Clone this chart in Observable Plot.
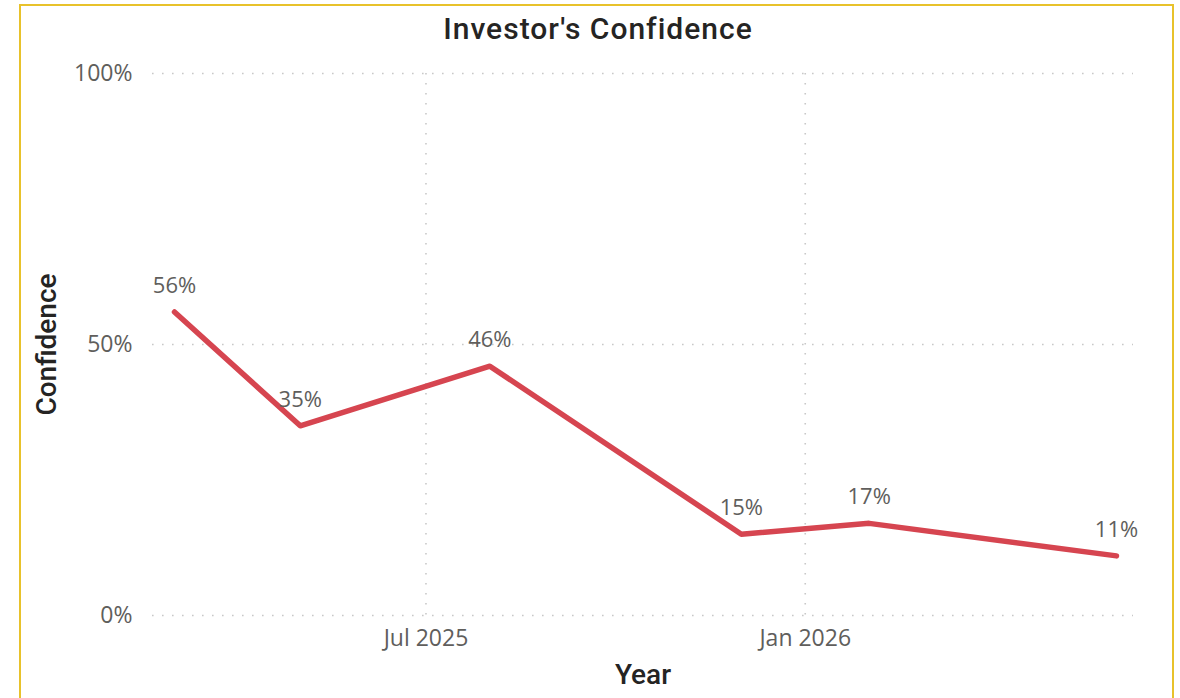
<!DOCTYPE html>
<html>
<head>
<meta charset="utf-8">
<script src="https://cdn.jsdelivr.net/npm/d3@7"></script>
<script src="https://cdn.jsdelivr.net/npm/@observablehq/plot@0.6"></script>
<style>
  html, body { margin: 0; padding: 0; background: #fff; }
  #wrap { position: relative; width: 1180px; height: 698px; overflow: hidden; }
  #frame { position: absolute; left: 19px; top: 4px; width: 1151px; height: 760px; border: 2px solid #E8C22B; pointer-events: none; }
  #title { position: absolute; left: 20px; width: 1156px; top: 8px; height: 42px; text-align: center;
           font-family: Roboto, sans-serif; font-weight: 500; font-size: 30px; line-height: 42px; color: #252423; letter-spacing: 1px; }
  #chart { position: absolute; left: 0; top: 50px; }
  #chart svg g[aria-label="y-axis label"] text,
  #chart svg g[aria-label="x-axis label"] text { font-family: Roboto, sans-serif; font-weight: 500; font-size: 28px; fill: #252423; }
</style>
</head>
<body>
<div id="wrap">
  <div id="title">Investor's Confidence</div>
  <div id="chart"></div>
  <div id="frame"></div>
</div>
<script>
const dates = ["2025-03-01", "2025-05-01", "2025-08-01", "2025-12-01", "2026-02-01", "2026-06-01"];
const confidence = [0.56, 0.35, 0.46, 0.15, 0.17, 0.11];
const xTickDates = ["2025-07-01", "2026-01-01"];
const yTickValues = [0, 0.5, 1];

const data = dates.map((d, i) => ({date: new Date(d + "T00:00:00Z"), value: confidence[i]}));
const xTicks = xTickDates.map(d => new Date(d + "T00:00:00Z"));

const grid = {stroke: "#c8c8c8", strokeOpacity: 1, strokeWidth: 1.6, strokeDasharray: "1.6,8.4"};

const chart = Plot.plot({
  width: 1180,
  height: 648,
  marginLeft: 152,
  marginRight: 47,
  marginTop: 23,
  marginBottom: 83,
  style: {fontFamily: "'Segoe UI', 'Open Sans', sans-serif", fontSize: "23px", color: "#605E5C", background: "transparent"},
  x: {type: "utc", domain: d3.extent(data, d => d.date), insetLeft: 22, insetRight: 17},
  y: {domain: [0, 1]},
  marks: [
    Plot.gridY(yTickValues, grid),
    Plot.gridX(xTicks, grid),
    Plot.axisY(yTickValues, {tickSize: 0, tickPadding: 20, tickFormat: d3.format(".0%"), label: "Confidence", labelAnchor: "center", labelArrow: "none", labelOffset: 116}),
    Plot.axisX(xTicks, {tickSize: 0, tickPadding: 14, tickFormat: d3.utcFormat("%b %Y"), label: "Year", labelAnchor: "center", labelArrow: "none", labelOffset: 68}),
    Plot.line(data, {x: "date", y: "value", stroke: "#D64550", strokeWidth: 5.5, strokeLinejoin: "round", strokeLinecap: "round"}),
    Plot.text(data, {x: "date", y: "value", text: d => d3.format(".0%")(d.value), dy: -26, fill: "#605E5C", fontSize: 22})
  ]
});
document.getElementById("chart").appendChild(chart);
</script>
</body>
</html>
